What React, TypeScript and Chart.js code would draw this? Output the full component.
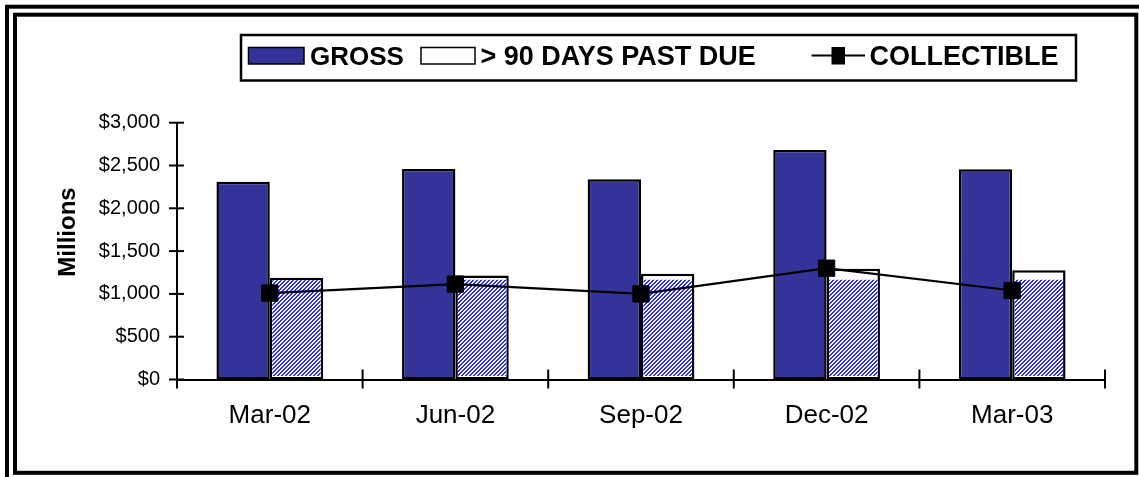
import React, { useEffect, useRef } from "react";
import { Chart, registerables } from "chart.js";

Chart.register(...registerables);

// ---- data ----
const categories = ["Mar-02", "Jun-02", "Sep-02", "Dec-02", "Mar-03"];
const grossValues = [2310, 2460, 2340, 2680, 2455];
const pastDueValues = [1190, 1215, 1235, 1295, 1275];
const collectibleValues = [1010, 1115, 1000, 1300, 1040];
const yTickValues = [0, 500, 1000, 1500, 2000, 2500, 3000];
const seriesNames = ["GROSS", "> 90 DAYS PAST DUE", "COLLECTIBLE"];
const axisTitle = "Millions";
// hatching of the past-due bars stops below this level (white band above)
const HATCH_LIMIT = 1165;

// ---- styles ----
const FONT = '"Liberation Sans", Arial, Helvetica, sans-serif';
const GROSS_COLOR = "#333399";
const HATCH_COLOR = [43, 43, 255];
const BAR_BORDER = 2.5;

function makeHatchPattern(ctx: CanvasRenderingContext2D) {
  const c = document.createElement("canvas");
  c.width = 4;
  c.height = 4;
  const g = c.getContext("2d")!;
  const img = g.createImageData(4, 4);
  for (let y = 0; y < 4; y++) {
    for (let x = 0; x < 4; x++) {
      const i = (y * 4 + x) * 4;
      const blue = (x + y) % 4 === 0 || (x + y) % 4 === 1;
      img.data[i] = blue ? HATCH_COLOR[0] : 255;
      img.data[i + 1] = blue ? HATCH_COLOR[1] : 255;
      img.data[i + 2] = blue ? HATCH_COLOR[2] : 255;
      img.data[i + 3] = 255;
    }
  }
  g.putImageData(img, 0, 0);
  return ctx.createPattern(c, "repeat")!;
}

const hatchPlugin = {
  id: "hatchBars",
  afterDatasetDraw(chart: any, args: any) {
    if (args.index !== 1) return;
    const ctx: CanvasRenderingContext2D = chart.ctx;
    const yScale = chart.scales.y;
    const limit = yScale.getPixelForValue(HATCH_LIMIT);
    const pattern = makeHatchPattern(ctx);
    const bw = BAR_BORDER;
    ctx.save();
    args.meta.data.forEach((bar: any) => {
      const { x, y, base, width } = bar.getProps(["x", "y", "base", "width"], true);
      const left = x - width / 2 + bw;
      const right = x + width / 2 - bw;
      const top = Math.max(y + bw, limit);
      const bottom = base - bw - 1;
      if (bottom > top) {
        ctx.fillStyle = pattern;
        ctx.fillRect(left, top, right - left, bottom - top);
      }
    });
    ctx.restore();
  },
};

const decorPlugin = {
  id: "decor",
  afterDraw(chart: any) {
    const ctx: CanvasRenderingContext2D = chart.ctx;
    const xs = chart.scales.x;
    const ys = chart.scales.y;
    ctx.save();
    ctx.strokeStyle = "#000";

    // crossing tick marks on y axis
    ctx.lineWidth = 2;
    ys.ticks.forEach((t: any) => {
      const py = ys.getPixelForValue(t.value);
      ctx.beginPath();
      ctx.moveTo(xs.left - 8, py);
      ctx.lineTo(xs.left + 7, py);
      ctx.stroke();
    });
    // crossing tick marks on x axis at category boundaries
    for (let i = 0; i <= categories.length; i++) {
      const px = xs.getPixelForValue(i - 0.5);
      ctx.beginPath();
      ctx.moveTo(px, ys.bottom - 10);
      ctx.lineTo(px, ys.bottom + 9);
      ctx.stroke();
    }

    // axis title
    ctx.fillStyle = "#000";
    ctx.font = `bold 24px ${FONT}`;
    ctx.textAlign = "center";
    ctx.textBaseline = "alphabetic";
    ctx.save();
    ctx.translate(75, 232);
    ctx.rotate(-Math.PI / 2);
    ctx.fillText(axisTitle, 0, 0);
    ctx.restore();

    // legend
    ctx.lineWidth = 2.5;
    ctx.strokeRect(241, 35, 835, 45.5);
    ctx.fillStyle = GROSS_COLOR;
    ctx.fillRect(248.5, 47.5, 55.5, 16.5);
    ctx.lineWidth = 1.5;
    ctx.strokeRect(248.5, 47.5, 55.5, 16.5);
    ctx.fillStyle = "#fff";
    ctx.fillRect(421, 47.5, 54, 16.5);
    ctx.strokeRect(421, 47.5, 54, 16.5);
    ctx.lineWidth = 2;
    ctx.beginPath();
    ctx.moveTo(811.5, 55.5);
    ctx.lineTo(865, 55.5);
    ctx.stroke();
    ctx.fillStyle = "#000";
    ctx.fillRect(831.5, 47, 13.5, 17.5);

    ctx.textAlign = "left";
    ctx.textBaseline = "alphabetic";
    ctx.font = `bold 26px ${FONT}`;
    ctx.fillText(seriesNames[0], 310, 64.5);
    ctx.font = `bold 27px ${FONT}`;
    ctx.fillText(seriesNames[1], 480.5, 64.5);
    ctx.fillText(seriesNames[2], 869.5, 64.5);

    // double frame
    ctx.lineWidth = 4;
    ctx.strokeRect(7, 6.7, 1200, 500);
    ctx.strokeRect(15, 14.7, 1121.3, 458.1);
    ctx.restore();
  },
};

export default function App() {
  const ref = useRef<HTMLCanvasElement | null>(null);

  useEffect(() => {
    if (!ref.current) return;
    const chart = new Chart(ref.current, {
      type: "bar",
      data: {
        labels: categories,
        datasets: [
          {
            label: seriesNames[0],
            data: grossValues,
            backgroundColor: GROSS_COLOR,
            borderColor: "#000",
            borderWidth: BAR_BORDER,
            borderSkipped: false,
            barPercentage: 1,
            categoryPercentage: 0.575,
            order: 1,
          },
          {
            label: seriesNames[1],
            data: pastDueValues,
            backgroundColor: "#ffffff",
            borderColor: "#000",
            borderWidth: BAR_BORDER,
            borderSkipped: false,
            barPercentage: 1,
            categoryPercentage: 0.575,
            order: 2,
          },
          {
            type: "line",
            label: seriesNames[2],
            data: collectibleValues,
            borderColor: "#000",
            borderWidth: 2.2,
            backgroundColor: "#000",
            pointStyle: "rect",
            pointRadius: 11.5,
            pointBackgroundColor: "#000",
            pointBorderColor: "#000",
            pointBorderWidth: 1,
            tension: 0,
            fill: false,
            order: 0,
          } as any,
        ],
      },
      options: {
        responsive: false,
        devicePixelRatio: 1,
        animation: false,
        events: [],
        layout: { padding: { left: 0, top: 122.7, right: 34, bottom: 0 } },
        plugins: {
          legend: { display: false },
          tooltip: { enabled: false },
          title: { display: false },
        },
        scales: {
          x: {
            offset: true,
            grid: { display: false, drawTicks: false, tickLength: 0 },
            border: { display: true, color: "#000", width: 2 },
            ticks: {
              color: "#000",
              font: { family: FONT, size: 26 },
              padding: 21,
              maxRotation: 0,
              autoSkip: false,
            },
            afterFit: (s: any) => {
              s.height = 97.5;
            },
          },
          y: {
            min: 0,
            max: 3000,
            grid: { display: false, drawTicks: false, tickLength: 0 },
            border: { display: true, color: "#000", width: 2 },
            afterBuildTicks: (s: any) => {
              s.ticks = yTickValues.map((v) => ({ value: v }));
            },
            ticks: {
              color: "#000",
              font: { family: FONT, size: 20 },
              padding: 17,
              callback: (v: any) => "$" + Number(v).toLocaleString("en-US"),
            },
            afterFit: (s: any) => {
              s.width = 177;
            },
          },
        },
      },
      plugins: [hatchPlugin, decorPlugin],
    });
    return () => chart.destroy();
  }, []);

  return (
    <div style={{ position: "fixed", left: 0, top: 0, width: 1139, height: 477, background: "#fff" }}>
      <canvas ref={ref} width={1139} height={477} style={{ display: "block" }} />
    </div>
  );
}
